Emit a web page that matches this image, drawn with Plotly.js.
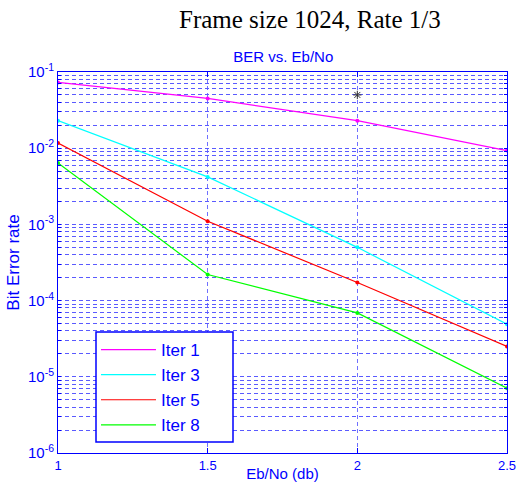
<!DOCTYPE html>
<html>
<head>
<meta charset="utf-8">
<script src="https://cdn.plot.ly/plotly-3.0.1.min.js"></script>
<style>html,body{margin:0;padding:0;background:#fff;}</style>
</head>
<body>
<div id="chart" style="width:516px;height:482px;"></div>
<script>
// Eb/No (dB)
const ebno = [1, 1.5, 2, 2.5];
// BER per iteration count
const iter1 = [0.073, 0.045, 0.023, 0.0093];
const iter3 = [0.023, 0.0042, 0.0005, 0.000049];
const iter5 = [0.0117, 0.0011, 0.000173, 0.000025];
const iter8 = [0.0064, 0.00022, 0.000069, 0.0000071];
const seriesNames = ["Iter 1", "Iter 3", "Iter 5", "Iter 8"];
const seriesColors = ["#ff00ff", "#00ffff", "#ff0000", "#00ff00"];
// stray mark on the original figure
const starX = [2];
const starY = [0.05];
const xTicks = [1, 1.5, 2, 2.5];
const xTickText = ["1", "1.5", "2", "2.5"];
const decades = [-6, -5, -4, -3, -2, -1];

const blue = "#0000ff";
const gridBlue = "#5a5aff";
const yTickVals = [];
const yTickText = [];
decades.forEach((d, i) => {
  yTickVals.push(Math.pow(10, d));
  yTickText.push("10<sup>" + d + "</sup>");
  if (i < decades.length - 1) {
    for (let m = 2; m <= 9; m++) {
      yTickVals.push(m * Math.pow(10, d));
      yTickText.push("");
    }
  }
});

const allSeries = [iter1, iter3, iter5, iter8];
const traces = [];
allSeries.forEach((ys, i) => {
  traces.push({
    x: ebno, y: ys, name: seriesNames[i], type: "scatter", mode: "lines",
    legendgroup: "g" + i,
    line: {color: seriesColors[i], width: 1.2}
  });
});
allSeries.forEach((ys, i) => {
  traces.push({
    x: ebno, y: ys, type: "scatter", mode: "markers", showlegend: false,
    legendgroup: "g" + i,
    marker: {color: seriesColors[i], size: 4}
  });
});
traces.push({
  x: starX, y: starY, type: "scatter", mode: "markers", showlegend: false,
  marker: {symbol: "asterisk-open", size: 7, color: "#333", line: {color: "#333", width: 1}},
  hoverinfo: "skip"
});

const layout = {
  width: 516, height: 482,
  margin: {l: 58, r: 9, t: 72, b: 29},
  paper_bgcolor: "#fff", plot_bgcolor: "#fff",
  font: {family: "Liberation Sans, Arial, sans-serif", color: blue},
  title: {text: "BER vs. Eb/No", font: {size: 15, color: blue}, x: 0.549, xanchor: "center", yref: "container", y: 1 - 57/482, yanchor: "middle"},
  xaxis: {
    range: [1, 2.5], tickvals: xTicks, ticktext: xTickText,
    showgrid: true, gridcolor: "#7070ff", griddash: "4px,3px", gridwidth: 1,
    showline: true, linecolor: blue, linewidth: 1, mirror: "ticks",
    ticks: "inside", ticklen: 5, tickcolor: blue, ticklabeloverflow: "allow",
    tickfont: {size: 13, color: blue}, zeroline: false,
    title: {text: "Eb/No (db)", font: {size: 15, color: blue}, standoff: 0}
  },
  yaxis: {
    type: "log", range: [-6, -1], tickvals: yTickVals, ticktext: yTickText,
    showgrid: true, gridcolor: gridBlue, griddash: "4px,3px", gridwidth: 1,
    showline: true, linecolor: blue, linewidth: 1, mirror: "ticks",
    ticks: "inside", ticklen: 3, tickcolor: blue,
    tickfont: {size: 15, color: blue}, zeroline: false,
    title: {text: "Bit Error rate", font: {size: 17, color: blue}, standoff: 4}
  },
  legend: {
    x: 0.0846, y: 0.3176, xanchor: "left", yanchor: "top",
    bgcolor: "rgba(0,0,0,0)", borderwidth: 0,
    font: {size: 17, color: blue}, itemwidth: 55, tracegroupgap: 0
  },
  shapes: [{
    type: "rect", xref: "paper", yref: "paper", layer: "above",
    x0: (96 - 58) / 449, x1: (233 - 58) / 449,
    y0: (453 - 442) / 381, y1: (453 - 332) / 381,
    fillcolor: "#fff", line: {color: blue, width: 1.5}
  }],
  annotations: [{
    text: "Frame size 1024, Rate 1/3", xref: "paper", yref: "paper",
    x: 0.561, y: (453 - 20) / 381, xanchor: "center", yanchor: "middle",
    showarrow: false, font: {family: "Liberation Serif, Times New Roman, serif", size: 25, color: "#000"}
  }],
  showlegend: true
};

Plotly.newPlot("chart", traces, layout, {displayModeBar: false, staticPlot: true});
</script>
</body>
</html>
